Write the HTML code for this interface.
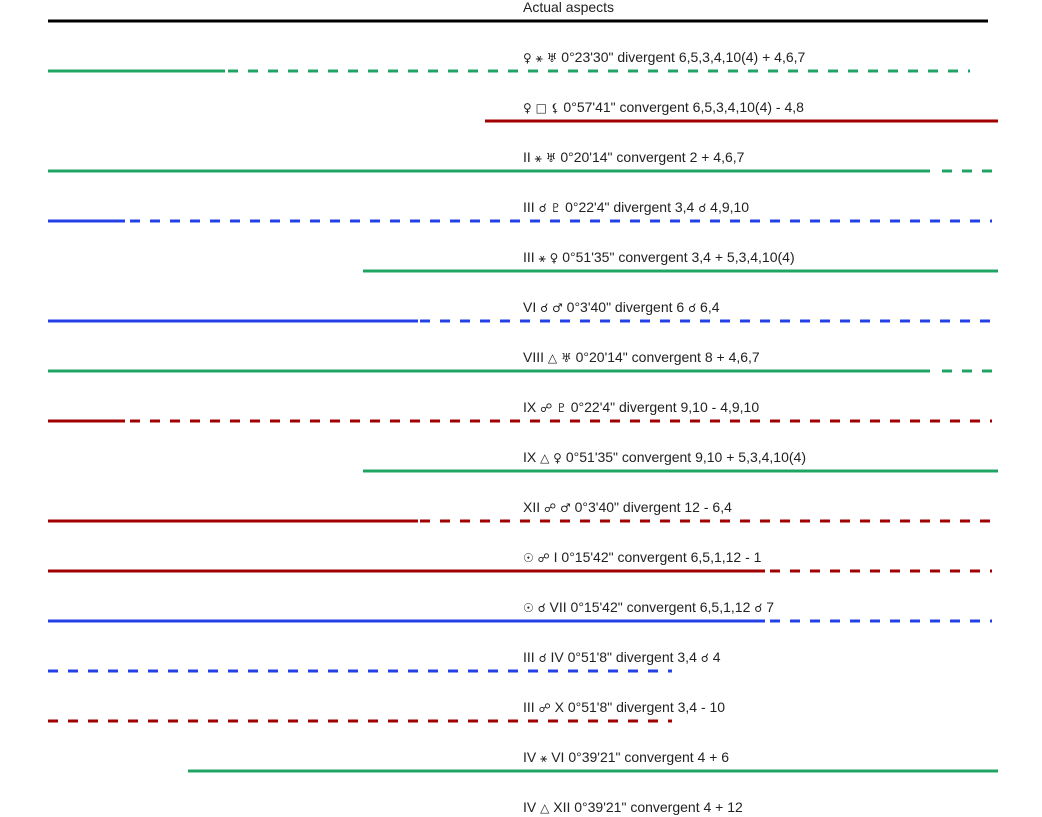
<!DOCTYPE html>
<html><head><meta charset="utf-8"><style>
html,body{margin:0;padding:0;background:#fff;width:1042px;height:817px;overflow:hidden}
svg{position:absolute;left:0;top:0}
text{font-family:"Liberation Sans","DejaVu Sans",sans-serif;font-size:14px;fill:#222}
.g{font-family:"DejaVu Sans",sans-serif;font-size:12px}
</style></head><body>
<svg width="1042" height="817" xmlns="http://www.w3.org/2000/svg">
<g stroke-width="3" fill="none">
<line x1="48" y1="21" x2="988" y2="21" stroke="#000"/>
<line x1="48" y1="71" x2="225" y2="71" stroke="#20a464"/><line x1="228" y1="71" x2="970" y2="71" stroke="#20a464" stroke-dasharray="10,10"/>
<line x1="485" y1="121" x2="998" y2="121" stroke="#a00000"/>
<line x1="48" y1="171" x2="930" y2="171" stroke="#20a464"/><line x1="942" y1="171" x2="993" y2="171" stroke="#20a464" stroke-dasharray="10,10"/>
<line x1="48" y1="221" x2="125" y2="221" stroke="#2340e6"/><line x1="130" y1="221" x2="992" y2="221" stroke="#2340e6" stroke-dasharray="10,10"/>
<line x1="363" y1="271" x2="998" y2="271" stroke="#20a464"/>
<line x1="48" y1="321" x2="418" y2="321" stroke="#2340e6"/><line x1="420" y1="321" x2="998" y2="321" stroke="#2340e6" stroke-dasharray="10,10"/>
<line x1="48" y1="371" x2="930" y2="371" stroke="#20a464"/><line x1="942" y1="371" x2="993" y2="371" stroke="#20a464" stroke-dasharray="10,10"/>
<line x1="48" y1="421" x2="125" y2="421" stroke="#a00000"/><line x1="130" y1="421" x2="992" y2="421" stroke="#a00000" stroke-dasharray="10,10"/>
<line x1="363" y1="471" x2="998" y2="471" stroke="#20a464"/>
<line x1="48" y1="521" x2="418" y2="521" stroke="#a00000"/><line x1="420" y1="521" x2="998" y2="521" stroke="#a00000" stroke-dasharray="10,10"/>
<line x1="48" y1="571" x2="765" y2="571" stroke="#a00000"/><line x1="770" y1="571" x2="992" y2="571" stroke="#a00000" stroke-dasharray="10,10"/>
<line x1="48" y1="621" x2="765" y2="621" stroke="#2340e6"/><line x1="770" y1="621" x2="992" y2="621" stroke="#2340e6" stroke-dasharray="10,10"/>
<line x1="48" y1="671" x2="672" y2="671" stroke="#2340e6" stroke-dasharray="10,10"/>
<line x1="48" y1="721" x2="672" y2="721" stroke="#a00000" stroke-dasharray="10,10"/>
<line x1="188" y1="771" x2="998" y2="771" stroke="#20a464"/>
</g>
<text x="523" y="12">Actual aspects</text>
<text x="523" y="62"><tspan class="g">♀ ⚹ ♅</tspan> 0°23'30" divergent 6,5,3,4,10(4) + 4,6,7</text>
<text x="523" y="112"><tspan class="g">♀ □ ⚸</tspan> 0°57'41" convergent 6,5,3,4,10(4) - 4,8</text>
<text x="523" y="162">II <tspan class="g">⚹ ♅</tspan> 0°20'14" convergent 2 + 4,6,7</text>
<text x="523" y="212">III <tspan class="g">☌ ♇</tspan> 0°22'4" divergent 3,4 <tspan class="g">☌</tspan> 4,9,10</text>
<text x="523" y="262">III <tspan class="g">⚹ ♀</tspan> 0°51'35" convergent 3,4 + 5,3,4,10(4)</text>
<text x="523" y="312">VI <tspan class="g">☌ ♂</tspan> 0°3'40" divergent 6 <tspan class="g">☌</tspan> 6,4</text>
<text x="523" y="362">VIII <tspan class="g">△ ♅</tspan> 0°20'14" convergent 8 + 4,6,7</text>
<text x="523" y="412">IX <tspan class="g">☍ ♇</tspan> 0°22'4" divergent 9,10 - 4,9,10</text>
<text x="523" y="462">IX <tspan class="g">△ ♀</tspan> 0°51'35" convergent 9,10 + 5,3,4,10(4)</text>
<text x="523" y="512">XII <tspan class="g">☍ ♂</tspan> 0°3'40" divergent 12 - 6,4</text>
<text x="523" y="562"><tspan class="g">☉ ☍</tspan> I 0°15'42" convergent 6,5,1,12 - 1</text>
<text x="523" y="612"><tspan class="g">☉ ☌</tspan> VII 0°15'42" convergent 6,5,1,12 <tspan class="g">☌</tspan> 7</text>
<text x="523" y="662">III <tspan class="g">☌</tspan> IV 0°51'8" divergent 3,4 <tspan class="g">☌</tspan> 4</text>
<text x="523" y="712">III <tspan class="g">☍</tspan> X 0°51'8" divergent 3,4 - 10</text>
<text x="523" y="762">IV <tspan class="g">⚹</tspan> VI 0°39'21" convergent 4 + 6</text>
<text x="523" y="812">IV <tspan class="g">△</tspan> XII 0°39'21" convergent 4 + 12</text>
</svg>
</body></html>
